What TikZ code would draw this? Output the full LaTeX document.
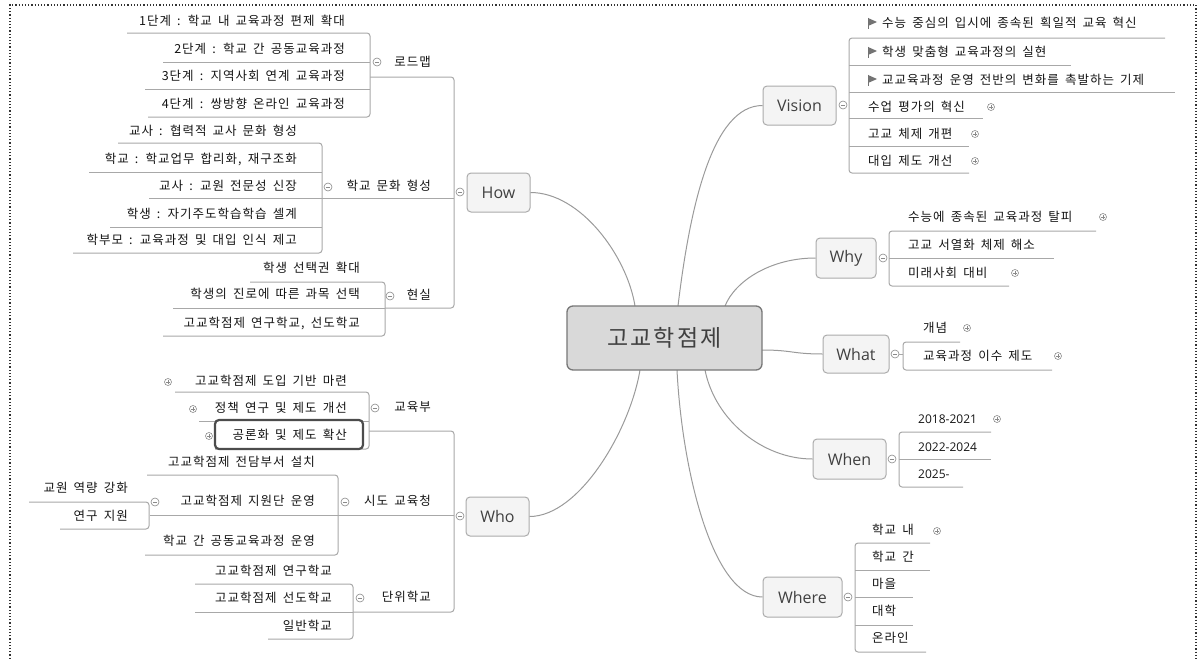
\documentclass[tikz,border=0pt]{standalone}
\usepackage{fontspec}
\newfontfamily\kr[LetterSpace=8,WordSpace=1.6]{Noto Sans CJK KR}
\newfontfamily\krbig[LetterSpace=10]{Noto Sans CJK KR}
\newfontfamily\lat{Open Sans}
\usetikzlibrary{calc}
\definecolor{lineg}{HTML}{A8A8A8}
\definecolor{curveg}{HTML}{9A9A9A}
\definecolor{tb}{HTML}{ABABAB}
\definecolor{tf}{HTML}{F4F4F4}
\definecolor{tt}{HTML}{404040}
\definecolor{txt}{HTML}{141414}
\definecolor{cf}{HTML}{D9D9D9}
\definecolor{cb}{HTML}{777777}
\definecolor{ig}{HTML}{8A8A8A}
\tikzset{
  br/.style={draw=lineg, line width=1pt, rounded corners=3pt},
  curve/.style={draw=curveg, line width=1pt},
  kt/.style={font=\kr\fontsize{12.5}{14}\selectfont, text=txt, inner sep=0pt},
  dt/.style={font=\lat\fontsize{12}{14}\selectfont, text=txt, inner sep=0pt},
  topic/.style={draw=tb, fill=tf, rounded corners=4pt, line width=1pt,
    font=\lat\fontsize{16}{18}\selectfont, text=tt, inner sep=0pt, minimum height=39pt},
  central/.style={draw=cb, fill=cf, rounded corners=6pt, line width=1.3pt,
    font=\krbig\fontsize{23}{25}\selectfont, text=tt, inner sep=0pt},
  pluss/.style={circle, draw=ig, fill=white, minimum size=7pt, inner sep=0pt, line width=0.6pt,
    path picture={\draw[ig, line width=0.7pt]
      ([xshift=-2pt]path picture bounding box.center) -- ([xshift=2pt]path picture bounding box.center)
      ([yshift=-2pt]path picture bounding box.center) -- ([yshift=2pt]path picture bounding box.center);}},
  minuss/.style={circle, draw=ig, fill=white, minimum size=8pt, inner sep=0pt, line width=0.6pt,
    path picture={\draw[ig, line width=0.7pt]
      ([xshift=-2.2pt]path picture bounding box.center) -- ([xshift=2.2pt]path picture bounding box.center);}},
  selbox/.style={draw=black!70, line width=2.2pt, rounded corners=4pt, fill=white, inner sep=0pt},
  flagpic/.pic={\fill[black!55] (0,-5) -- (9,-1) -- (0,3) -- cycle;
                \draw[black!55, line width=0.9pt] (0,-5.5) -- (0,6);}
}
\begin{document}
\begin{tikzpicture}[x=1pt, y=-1pt]
\useasboundingbox (0,0) rectangle (1200,659);
% frame
\draw[dotted, line width=1.2pt, black!80] (10,662) -- (10,5) -- (1196,5) -- (1196,662);

% ---------- central and main topics ----------
\node[topic, minimum width=63pt] (how) at (498.5,192.5) {How};
\node[topic, minimum width=63pt] (who) at (497.5,516.5) {Who};
\node[topic, minimum width=73pt] (vision) at (799.5,105.5) {Vision};
\node[topic, minimum width=60pt, minimum height=40pt] (why) at (846,258) {Why};
\node[topic, minimum width=66pt, minimum height=38pt] (what) at (856,354) {What};
\node[topic, minimum width=73pt, minimum height=40pt] (when) at (849.5,459) {When};
\node[topic, minimum width=79pt, minimum height=40pt] (where) at (802.5,597) {Where};
\coordinate (cpos) at (664.5,338);

\draw[curve] (how.east) .. controls +(50,0) and +(-8,-50) .. ($(cpos)+(-29.5,-32)$);
\draw[curve] (who.east) .. controls +(50,0) and +(-10,60) .. ($(cpos)+(-24.5,32)$);
\draw[curve] (vision.west) .. controls +(-50,0) and +(12,-100) .. ($(cpos)+(13.5,-32)$);
\draw[curve] (why.west) .. controls +(-45,0) and +(10,-25) .. ($(cpos)+(60.5,-32)$);
\draw[curve] (what.west) .. controls +(-30,0) and +(30,0) .. ($(cpos)+(97.5,12)$);
\draw[curve] (when.west) .. controls +(-50,0) and +(10,50) .. ($(cpos)+(40.5,32)$);
\draw[curve] (where.west) .. controls +(-50,0) and +(5,100) .. ($(cpos)+(12.5,32)$);
\node[central, minimum width=195pt, minimum height=64pt] (c) at (cpos) {고교학점제};

% ---------- HOW ----------
\draw[br] (370,77) -- (454,77) -- (454,308) -- (385,308);
\node[minuss] (howc) at (460,192) {};
% roadmap
\draw[br] (127,33) -- (370,33) -- (370,117) -- (148,117);
\draw[br] (163,62) -- (370,62);
\draw[br] (145,89) -- (370,89);
\node[kt, anchor=east] (roadmap) at (431,62) {로드맵};
\node[minuss] (roadmapc) at (377,62) {};
\node[kt, anchor=east] (r1) at (345,21) {1단계 : 학교 내 교육과정 편제 확대};
\node[kt, anchor=east] (r2) at (345,49) {2단계 : 학교 간 공동교육과정};
\node[kt, anchor=east] (r3) at (345,76) {3단계 : 지역사회 연계 교육과정};
\node[kt, anchor=east] (r4) at (345,104) {4단계 : 쌍방향 온라인 교육과정};
% school culture
\draw[br] (118,143) -- (322,143) -- (322,253) -- (73,253);
\draw[br] (89,172) -- (322,172);
\draw[br] (149,198) -- (454,198);
\draw[br] (110,227) -- (322,227);
\node[kt, anchor=east] (culture) at (431,186) {학교 문화 형성};
\node[minuss] (culturec) at (328,187) {};
\node[kt, anchor=east] (c1) at (297,131) {교사 : 협력적 교사 문화 형성};
\node[kt, anchor=east] (c2) at (297,159) {학교 : 학교업무 합리화, 재구조화};
\node[kt, anchor=east] (c3) at (297,186) {교사 : 교원 전문성 신장};
\node[kt, anchor=east] (c4) at (297,214) {학생 : 자기주도학습학습 셀계};
\node[kt, anchor=east] (c5) at (297,240) {학부모 : 교육과정 및 대입 인식 제고};
% reality
\draw[br] (250,282) -- (385,282) -- (385,336) -- (163,336);
\draw[br] (173,308) -- (385,308);
\node[kt, anchor=east] (reality) at (431,295) {현실};
\node[minuss] (realityc) at (390,296) {};
\node[kt, anchor=east] (h1) at (360,268) {학생 선택권 확대};
\node[kt, anchor=east] (h2) at (360,294) {학생의 진로에 따른 과목 선택};
\node[kt, anchor=east] (h3) at (360,323) {고교학점제 연구학교, 선도학교};

% ---------- WHO ----------
\draw[br] (369,431) -- (454,431) -- (454,612) -- (353,612);
\node[minuss] (whoc) at (460,516) {};
% ministry
\draw[br] (175,392) -- (369,392) -- (369,449) -- (215,449);
\draw[br] (199,421) -- (369,421);
\node[kt, anchor=east] (moe) at (431,407) {교육부};
\node[minuss] (moec) at (375,408) {};
\node[kt, anchor=east] (m1) at (347,381) {고교학점제 도입 기반 마련};
\node[pluss] (m1p) at (168,382) {};
\node[kt, anchor=east] (m2) at (347,408) {정책 연구 및 제도 개선};
\node[pluss] (m2p) at (193,409) {};
\node[selbox, minimum width=148pt, minimum height=29pt] (m3box) at (289,434.5) {};
\node[kt, anchor=east] (m3) at (347,435) {공론화 및 제도 확산};
\node[pluss] (m3p) at (209,436) {};
% office of education
\draw[br] (147,475) -- (338,475) -- (338,555) -- (145,555);
\draw[br] (150,515) -- (454,515);
\node[kt, anchor=east] (edu) at (431,501) {시도 교육청};
\node[minuss] (educ) at (345,502) {};
\node[kt, anchor=east] (e1) at (315,462) {고교학점제 전담부서 설치};
\node[kt, anchor=east] (e2) at (315,501) {고교학점제 지원단 운영};
\node[minuss] (e2c) at (155,502) {};
\node[kt, anchor=east] (e3) at (315,541) {학교 간 공동교육과정 운영};
\draw[br] (29,502) -- (149,502) -- (149,529) -- (60,529);
\node[kt, anchor=east] (s1) at (128,488) {교원 역량 강화};
\node[kt, anchor=east] (s2) at (128,516) {연구 지원};
% unit school
\draw[br] (195,584) -- (353,584) -- (353,639) -- (268,639);
\draw[br] (195,612) -- (353,612);
\node[kt, anchor=east] (unit) at (431,597) {단위학교};
\node[minuss] (unitc) at (360,598) {};
\node[kt, anchor=east] (u1) at (332,571) {고교학점제 연구학교};
\node[kt, anchor=east] (u2) at (332,598) {고교학점제 선도학교};
\node[kt, anchor=east] (u3) at (332,626) {일반학교};

% ---------- VISION ----------
\draw[br] (1165,38) -- (849,38) -- (849,173) -- (969,173);
\draw[br] (849,65) -- (1071,65);
\draw[br] (849,92) -- (1175,92);
\draw[br] (849,118) -- (983,118);
\draw[br] (849,146) -- (969,146);
\node[minuss] (visionc) at (843,105) {};
\pic at (868,23) {flagpic};
\pic at (868,52) {flagpic};
\pic at (868,80) {flagpic};
\node[kt, anchor=west] (v1) at (882,23) {수능 중심의 입시에 종속된 획일적 교육 혁신};
\node[kt, anchor=west] (v2) at (882,52) {학생 맞춤형 교육과정의 실현};
\node[kt, anchor=west] (v3) at (882,80) {교교육과정 운영 전반의 변화를 촉발하는 기제};
\node[kt, anchor=west] (v4) at (868,107) {수업 평가의 혁신};
\node[pluss] (v4p) at (991,107) {};
\node[kt, anchor=west] (v5) at (868,134) {고교 체제 개편};
\node[pluss] (v5p) at (975,134) {};
\node[kt, anchor=west] (v6) at (868,161) {대입 제도 개선};
\node[pluss] (v6p) at (975,161) {};

% ---------- WHY ----------
\draw[br] (1096,231) -- (889,231) -- (889,286) -- (1009,286);
\draw[br] (889,258) -- (1054,258);
\node[minuss] (whyc) at (883,258) {};
\node[kt, anchor=west] (y1) at (908,217) {수능에 종속된 교육과정 탈피};
\node[pluss] (y1p) at (1103,217) {};
\node[kt, anchor=west] (y2) at (908,245) {고교 서열화 체제 해소};
\node[kt, anchor=west] (y3) at (908,273) {미래사회 대비};
\node[pluss] (y3p) at (1015,273) {};

% ---------- WHAT ----------
\draw[br] (960,342) -- (903,342) -- (903,370) -- (1052,370);
\node[minuss] (whatc) at (895,354) {};
\draw[br] (whatc) -- (903,354);
\node[kt, anchor=west] (w1) at (923,328) {개념};
\node[pluss] (w1p) at (967,328) {};
\node[kt, anchor=west] (w2) at (923,356) {교육과정 이수 제도};
\node[pluss] (w2p) at (1058,356) {};

% ---------- WHEN ----------
\draw[br] (991,432) -- (899,432) -- (899,487) -- (963,487);
\draw[br] (899,459) -- (991,459);
\node[minuss] (whenc) at (892,459) {};
\node[dt, anchor=west] (n1) at (918,419) {2018-2021};
\node[pluss] (n1p) at (997,419) {};
\node[dt, anchor=west] (n2) at (918,447) {2022-2024};
\node[dt, anchor=west] (n3) at (918,474) {2025-};

% ---------- WHERE ----------
\draw[br] (930,543) -- (855,543) -- (855,652) -- (926,652);
\draw[br] (855,570) -- (930,570);
\draw[br] (855,597) -- (913,597);
\draw[br] (855,625) -- (913,625);
\node[minuss] (wherec) at (848,597) {};
\node[kt, anchor=west] (g1) at (872,530) {학교 내};
\node[pluss] (g1p) at (937,531) {};
\node[kt, anchor=west] (g2) at (872,557) {학교 간};
\node[kt, anchor=west] (g3) at (872,584) {마을};
\node[kt, anchor=west] (g4) at (872,611) {대학};
\node[kt, anchor=west] (g5) at (872,638) {온라인};
\end{tikzpicture}
\end{document}
